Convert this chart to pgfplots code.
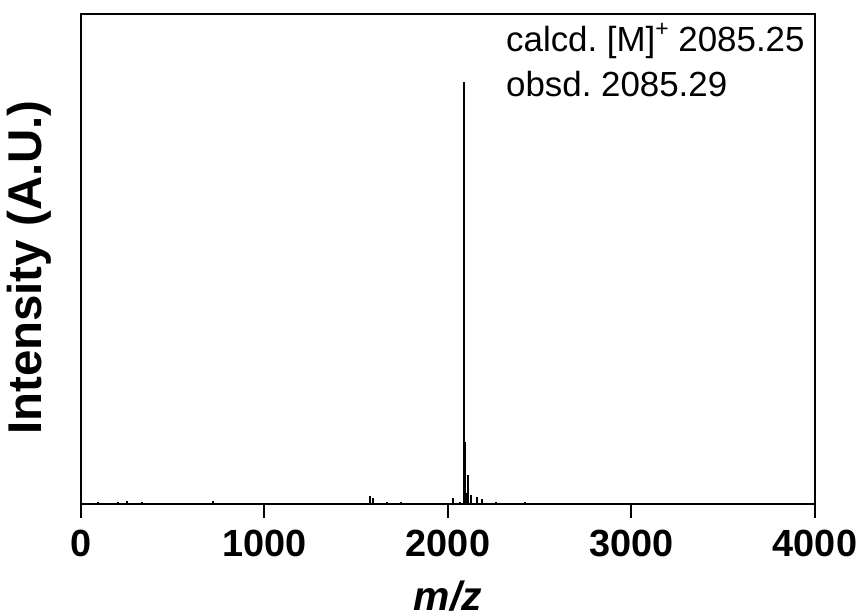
\documentclass[border=0pt]{standalone}
\usepackage{fontspec}
\setmainfont{Liberation Sans}
\usepackage{pgfplots}
\pgfplotsset{compat=1.18}
\frenchspacing
\begin{document}
\begin{tikzpicture}
\begin{axis}[
  at={(0,0)}, anchor=south west,
  scale only axis,
  width=367bp, height=244.75bp,
  xmin=0, xmax=4000, ymin=0, ymax=1,
  axis line style={line width=1bp},
  xtick={0,1000,2000,3000,4000},
  xticklabels={0,1000,2000,3000,4000},
  xtick pos=bottom,
  tick align=outside,
  major tick length=7bp,
  every tick/.style={line width=1bp, black},
  ytick=\empty,
  minor xtick={},
  xticklabel style={font=\fontsize{19}{22}\selectfont\bfseries, yshift=-2.5bp},
  every axis x label/.style={at={(rel axis cs:0.5,0)}, anchor=base, yshift=-53bp},
  every axis y label/.style={at={(rel axis cs:0,0.483)}, xshift=-26bp, rotate=90, anchor=center},
  xlabel={\fontsize{20.5}{24}\selectfont\bfseries\itshape m/z},
  ylabel={\fontsize{23.8}{28}\selectfont\bfseries Intensity (A.U.)},
  clip=false,
]
\addplot[ycomb, black, line width=1bp, mark=none] coordinates {
(94,0.005) (202,0.004) (249,0.006) (331,0.004) (721,0.006)
(1575,0.016) (1590,0.012) (1666,0.005) (1745,0.005)
(2029,0.013) (2065,0.005) (2085,0.862) (2091,0.127) (2102,0.022)
(2111,0.059) (2124,0.018) (2156,0.014) (2184,0.010) (2262,0.005) (2420,0.005)
};
\node[anchor=base west, inner sep=0pt, font=\fontsize{17.5}{21}\selectfont] at (axis cs:2315,0.924) {calcd. [M]\raisebox{7.5bp}{\fontsize{11.5}{12}\selectfont+} 2085.25};
\node[anchor=base west, inner sep=0pt, font=\fontsize{17.5}{21}\selectfont] at (axis cs:2315,0.832) {obsd. 2085.29};
\end{axis}
\pgfresetboundingbox
\path[use as bounding box] (-40.5bp,-56bp) rectangle (389.5bp,252bp);
\end{tikzpicture}
\end{document}
